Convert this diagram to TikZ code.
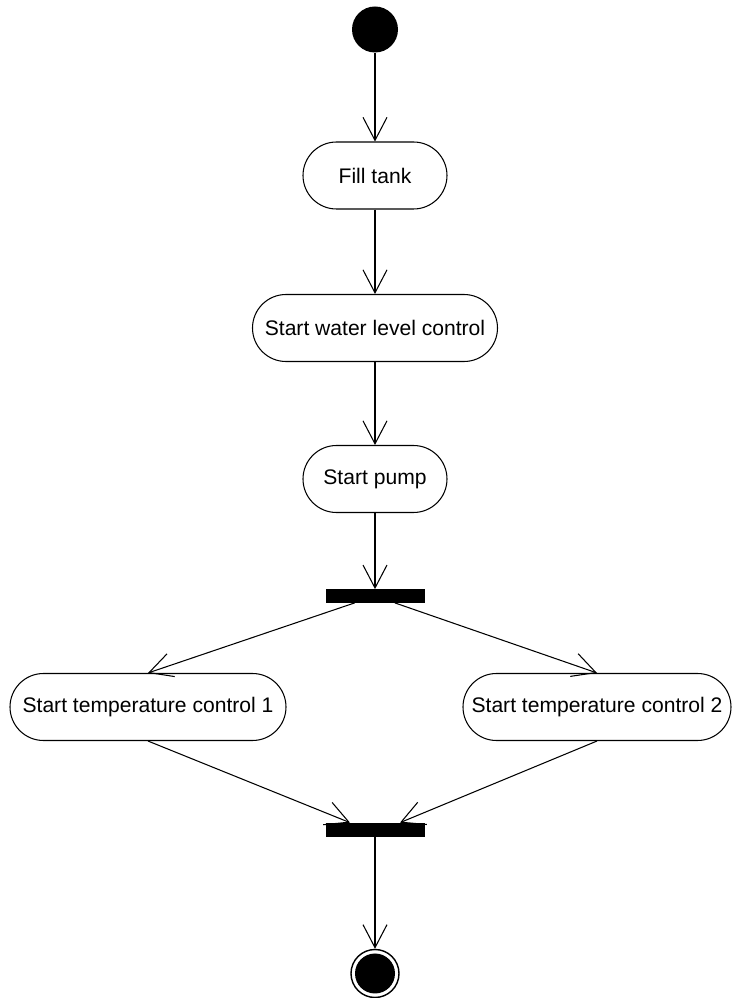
\documentclass[tikz,border=0pt]{standalone}
\usepackage{fontspec}
\setmainfont{Liberation Sans}
\usepackage{tikz}
\usetikzlibrary{arrows.meta,positioning}

\begin{document}
\begin{tikzpicture}[
    action/.style={draw, rectangle, rounded corners=0.67cm, line width=0.6pt, minimum height=1.34cm, font=\fontsize{12}{14}\selectfont},
    bar/.style={draw, fill=black, rectangle, inner sep=0pt, minimum width=1.96cm, minimum height=0.26cm},
    flow/.style={line width=0.6pt, -{Straight Barb[length=0.46cm, width=0.48cm, line width=0.6pt]}}
]
    \useasboundingbox (0, 0) rectangle (14.66, 19.96);

    % Initial state
    \node[circle, fill=black, minimum size=0.92cm, inner sep=0pt] (start) at (7.5, 19.37) {};

    % Actions
    \node[action, minimum width=2.88cm] (fill) at (7.5, 16.45) {Fill tank};
    \node[action, minimum width=4.9cm] (level) at (7.5, 13.4) {Start water level control};
    \node[action, minimum width=2.88cm] (pump) at (7.5, 10.38) {Start pump};

    % Fork and parallel branches
    \node[bar] (fork) at (7.5, 8.04) {};
    \node[action, minimum width=5.52cm] (temp1) at (2.96, 5.82) {Start temperature control 1};
    \node[action, minimum width=5.36cm] (temp2) at (11.94, 5.82) {Start temperature control 2};
    \node[bar] (join) at (7.5, 3.37) {};

    % Final state
    \node[circle, draw, line width=0.8pt, minimum size=0.96cm, inner sep=0pt] (end) at (7.5, 0.49) {};
    \node[circle, fill=black, minimum size=0.8cm, inner sep=0pt] (endcore) at (end) {};

    % Arrows
    \draw[flow] (start) -- (fill);
    \draw[flow] (fill) -- (level);
    \draw[flow] (level) -- (pump);
    \draw[flow] (pump) -- (fork);
    \draw[flow] (fork) -- (temp1.north);
    \draw[flow] (fork) -- (temp2.north);
    \draw[flow] (temp1.south) -- ([xshift=-0.5cm]join.north);
    \draw[flow] (temp2.south) -- ([xshift=0.5cm]join.north);
    \draw[flow] (join) -- (end);
\end{tikzpicture}
\end{document}
